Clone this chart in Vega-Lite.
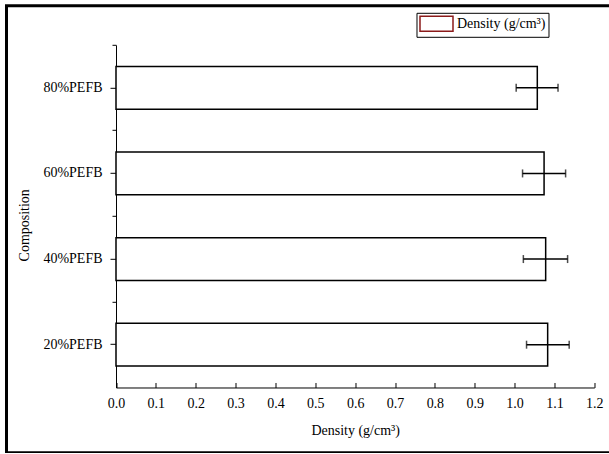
{
  "$schema": "https://vega.github.io/schema/vega-lite/v6.json",
  "width": 604,
  "height": 447,
  "autosize": {"type": "none"},
  "padding": {"left": 6.5, "top": 5.8, "right": 0, "bottom": 0},
  "background": "white",
  "config": {
    "font": "Liberation Serif",
    "view": {"stroke": "black", "strokeWidth": 3},
    "axis": {
      "labelFont": "Liberation Serif",
      "titleFont": "Liberation Serif",
      "labelColor": "black",
      "titleColor": "black",
      "domainColor": "black",
      "tickColor": "black",
      "grid": false,
      "titleFontWeight": "normal",
      "labelFontWeight": "normal",
      "domainWidth": 1,
      "tickWidth": 1
    },
    "legend": {"labelFont": "Liberation Serif"}
  },
  "resolve": {"axis": {"y": "independent"}},
  "data": {
    "values": [
      {"composition": "80%PEFB", "density": 1.057, "lo": 1.004, "hi": 1.109},
      {"composition": "60%PEFB", "density": 1.074, "lo": 1.020, "hi": 1.128},
      {"composition": "40%PEFB", "density": 1.078, "lo": 1.022, "hi": 1.133},
      {"composition": "20%PEFB", "density": 1.083, "lo": 1.030, "hi": 1.137}
    ]
  },
  "layer": [
    {
      "mark": {"type": "bar", "stroke": "black", "strokeWidth": 1.5},
      "encoding": {
        "y": {
          "field": "composition",
          "type": "nominal",
          "sort": ["80%PEFB", "60%PEFB", "40%PEFB", "20%PEFB"],
          "scale": {"range": [39.2, 381.7], "paddingInner": 0.5, "paddingOuter": 0.25},
          "axis": {
            "orient": "left",
            "title": "Composition",
            "offset": -109.5,
            "tickSize": 6,
            "labelPadding": 8,
            "labelFontSize": 14,
            "titleFontSize": 14,
            "titlePadding": 11.5,
            "titleY": 219
          }
        },
        "x": {
          "field": "density",
          "type": "quantitative",
          "scale": {"domain": [0, 1.2], "range": [109.5, 587.8], "nice": false, "zero": true},
          "axis": {
            "title": "Density (g/cm³)",
            "values": [0, 0.05, 0.1, 0.15, 0.2, 0.25, 0.3, 0.35, 0.4, 0.45, 0.5, 0.55, 0.6, 0.65, 0.7, 0.75, 0.8, 0.85, 0.9, 0.95, 1.0, 1.05, 1.1, 1.15, 1.2],
            "format": ".1f",
            "labelExpr": "round(datum.value * 100) % 10 == 0 ? datum.label : ''",
            "labelFlush": false,
            "tickSize": {"condition": {"test": "round(datum.value * 100) % 10 == 0", "value": -5}, "value": -3},
            "offset": -65.3,
            "labelFontSize": 14,
            "labelPadding": 14,
            "titleFontSize": 14,
            "titlePadding": 13
          }
        },
        "fill": {
          "datum": "Density (g/cm³)",
          "scale": {"range": ["white"]},
          "legend": {
            "title": null,
            "orient": "none",
            "legendX": 410,
            "legendY": 7,
            "padding": 2.5,
            "strokeColor": "black",
            "fillColor": "white",
            "symbolType": "M-2.2,-1H2.2V1H-2.2Z",
            "symbolSize": 225,
            "symbolOffset": 9,
            "symbolStrokeColor": "#8b1a1a",
            "symbolFillColor": "white",
            "symbolStrokeWidth": 1.5,
            "labelFontSize": 14,
            "labelFontWeight": "normal",
            "labelColor": "black",
            "labelOffset": 12
          }
        }
      }
    },
    {
      "mark": {"type": "rule", "strokeWidth": 1.5, "color": "black"},
      "encoding": {
        "x": {"field": "lo", "type": "quantitative"},
        "x2": {"field": "hi"},
        "y": {
          "field": "composition",
          "type": "nominal",
          "sort": ["80%PEFB", "60%PEFB", "40%PEFB", "20%PEFB"],
          "axis": {
            "orient": "left",
            "offset": -109.5,
            "bandPosition": -0.5,
            "labels": false,
            "domain": false,
            "title": null,
            "tickSize": 4
          }
        }
      }
    },
    {
      "mark": {"type": "tick", "orient": "vertical", "thickness": 1.5, "size": 8, "color": "black"},
      "encoding": {
        "x": {"field": "lo", "type": "quantitative"},
        "y": {"field": "composition", "type": "nominal", "sort": ["80%PEFB", "60%PEFB", "40%PEFB", "20%PEFB"], "axis": null}
      }
    },
    {
      "mark": {"type": "tick", "orient": "vertical", "thickness": 1.5, "size": 8, "color": "black"},
      "encoding": {
        "x": {"field": "hi", "type": "quantitative"},
        "y": {"field": "composition", "type": "nominal", "sort": ["80%PEFB", "60%PEFB", "40%PEFB", "20%PEFB"], "axis": null}
      }
    }
  ]
}
